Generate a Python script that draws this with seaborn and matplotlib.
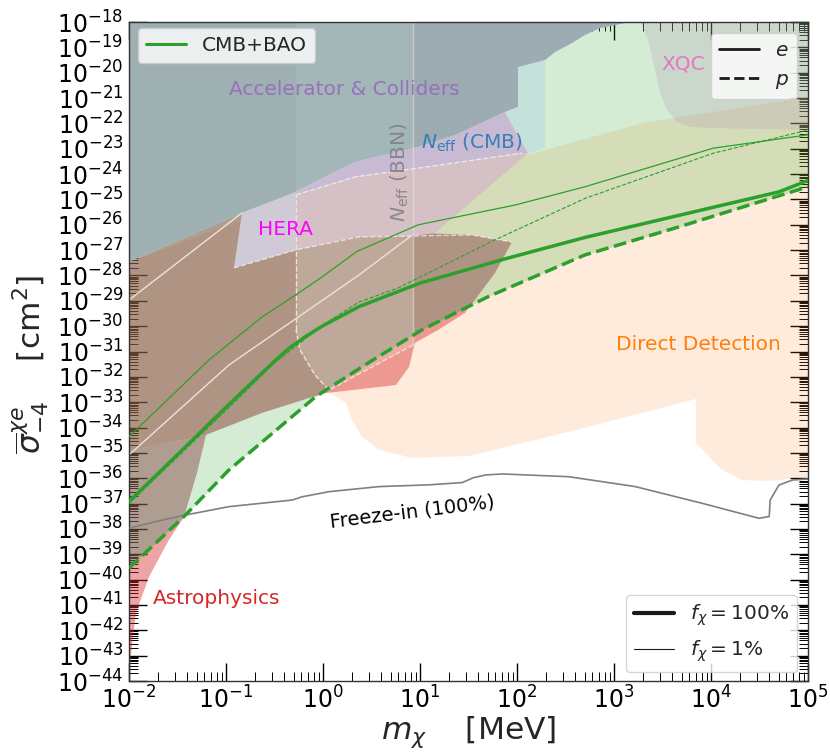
import numpy as np
import matplotlib
matplotlib.use("Agg")
import matplotlib.pyplot as plt
import seaborn as sns
from matplotlib.ticker import LogLocator, NullFormatter
from matplotlib.lines import Line2D

sns.set_theme(style="ticks")
plt.rcParams['font.family'] = ['DejaVu Sans']
plt.rcParams['mathtext.fontset'] = 'dejavusans'

# ---------------- data: log10(m / MeV), log10(sigma / cm^2) ----------------
# CMB+BAO limits
e100_logm = [-2.0, -1.5, -1.0, -0.5, -0.35, -0.18, 0.0, 0.37, 1.0, 1.9, 2.7, 3.7, 4.7, 5.0]
e100_logs = [-36.92, -35.07, -33.2, -31.38, -30.87, -30.41, -29.98, -29.23, -28.3, -27.32, -26.5, -25.6, -24.7, -24.25]
p100_logm = [-2.0, -1.433, -0.969, -0.523, -0.075, 0.433, 1.017, 1.70, 2.70, 3.68, 4.78, 5.0]
p100_logs = [-39.55, -37.51, -35.67, -34.23, -32.78, -31.53, -30.15, -28.84, -27.19, -26.07, -24.76, -24.5]
e1_logm = [-2.0, -1.175, -0.626, -0.282, -0.007, 0.35, 0.983, 1.98, 2.70, 4.02, 5.0]
e1_logs = [-34.36, -31.33, -29.63, -28.77, -28.05, -27.05, -26.0, -25.22, -24.5, -22.98, -22.45]
p1_logm = [-2.0, -1.0, -0.5, 0.0, 0.37, 0.77, 1.77, 2.7, 4.02, 5.0]
p1_logs = [-37.0, -33.32, -31.45, -29.95, -29.05, -28.5, -26.6, -24.96, -23.18, -22.26]

# freeze-in (100%)
fi_logm = [-2.0, -1.657, -1.416, -0.969, -0.317, -0.214, 0.062, 0.577, 1.093, 1.436, 1.55, 1.677, 1.85,
           2.536, 3.22, 3.91, 4.495, 4.60, 4.61, 4.70, 4.84, 5.0]
fi_logs = [-37.97, -37.65, -37.45, -37.12, -36.86, -36.73, -36.53, -36.33, -36.26, -36.17, -35.98, -35.87, -35.83,
           -35.94, -36.33, -36.99, -37.58, -37.51, -36.86, -36.27, -36.07, -36.03]

# direct detection region
dd_logm = [0.062, 0.237, 0.299, 0.402, 0.577, 0.918, 1.505, 2.536, 3.845, 3.845, 4.113, 4.320, 4.598, 5.0,
           5.0, 3.299, 2.103, 0.897, -0.278, -2.0, -2.0, -1.206, -0.629, -0.144]
dd_logs = [-32.60, -33.03, -33.70, -34.37, -34.88, -35.20, -35.12, -34.17, -32.87, -34.61, -35.67, -36.07, -36.11, -35.95,
           -20.96, -21.98, -23.25, -24.55, -25.02, -27.47, -34.88, -34.29, -33.42, -32.83]

# astrophysics region
astro_logm = [-2.0, -1.979, -1.928, -1.794, -1.588, -1.433, -1.299, -1.206, -0.629, -0.144, 0.031, 0.753, 0.887,
              0.948, 1.186, 1.464, 1.773, 1.948, 1.536, 1.021, 0.330, -0.278, -0.753, -0.835, -2.0]
astro_logs = [-44.04, -42.97, -41.31, -39.89, -38.43, -37.53, -35.79, -34.29, -33.42, -32.83, -32.64, -32.32, -31.61,
              -30.66, -30.15, -29.48, -27.90, -26.68, -26.40, -26.32, -26.48, -26.99, -26.60, -25.53, -27.47]

# overlapping cosmology band over the astrophysics region
ov_logm = [-2.0, -2.0, -0.835, -0.753, -0.278, 0.330, 1.021, 1.536, 1.948, 1.773, 1.53, 1.017, 0.433, -0.09,
           -0.629, -1.206, -1.299, -1.433, -2.0]
ov_logs = [-39.55, -27.47, -25.53, -26.60, -26.99, -26.48, -26.32, -26.40, -26.68, -27.90, -29.17, -30.15, -31.53, -32.80,
           -33.42, -34.29, -35.79, -37.51, -39.55]

# accelerator & colliders
acc_logm = [-2.0, 3.165, 2.856, 2.701, 2.567, 2.392, 2.289, 2.010, 2.010, 1.876, 1.361, 0.948, 0.330, -0.309, -0.835, -2.0]
acc_logs = [-18.0, -18.0, -18.24, -18.51, -18.83, -19.18, -19.50, -19.78, -21.35, -21.55, -22.46, -22.97, -23.52, -24.75, -25.53, -27.47]
acc_r_logm = [0.928, 3.165, 2.856, 2.701, 2.567, 2.392, 2.289, 2.010, 2.010, 1.876, 1.361, 0.948, 0.928]
acc_r_logs = [-18.0, -18.0, -18.24, -18.51, -18.83, -19.18, -19.50, -19.78, -21.35, -21.55, -22.46, -22.97, -23.0]

# Neff (CMB)
neffcmb_logm = [-0.309, 0.330, 0.948, 1.361, 1.876, 2.113, 2.052, 1.206, 0.330, -0.278]
neffcmb_logs = [-24.75, -23.52, -22.97, -22.46, -21.55, -23.17, -23.17, -23.64, -24.11, -24.82]
neffcmb_strip_logm = [2.010, 2.289, 2.289, 2.113, 1.876, 2.010]
neffcmb_strip_logs = [-19.78, -19.50, -22.97, -23.17, -21.55, -21.35]

# HERA
hera_logm = [-0.835, -0.309, -0.278, -0.278, -0.918]
hera_logs = [-25.53, -24.75, -24.82, -26.99, -27.70]
hera2_logm = [-0.278, 0.330, 1.206, 2.052, 2.113, 1.155, 0.928, 0.330, -0.278]
hera2_logs = [-24.82, -24.11, -23.64, -23.17, -23.17, -26.32, -26.44, -26.48, -26.99]

# XQC
xqc_logm = [3.268, 3.351, 3.423, 3.474, 3.546, 3.649, 3.784, 4.021, 5.0, 5.0]
xqc_logs = [-18.0, -18.71, -19.89, -20.80, -21.47, -21.94, -22.14, -22.18, -22.26, -18.0]

# Neff (BBN) band
bbn_logm = [-0.278, 0.928, 0.928, 0.062, -0.082, -0.237, -0.278]
bbn_logs = [-18.0, -18.0, -30.74, -32.52, -31.93, -30.94, -30.15]
bbn_top_logm = [-0.278, 0.928, 0.928, 0.330, -0.278]
bbn_top_logs = [-18.0, -18.0, -23.0, -23.52, -24.82]

# faint boundary curves
edge1_logm = [-2.0, -0.835]
edge1_logs = [-28.97, -25.53]
edge2_logm = [-2.0, -0.969, 0.371, 0.897]
edge2_logs = [-35.08, -31.53, -27.98, -26.47]
hera_edge_logm = [-0.918, -0.278, 0.371, 1.536, 1.948]
hera_edge_logs = [-27.70, -26.99, -26.48, -26.40, -26.68]
cmb_edge_logm = [-0.278, 0.330, 1.206, 2.052]
cmb_edge_logs = [-24.82, -24.11, -23.64, -23.17]

# ---------------- figure ----------------
fig = plt.figure(figsize=(8.3, 7.52), dpi=100)
ax = fig.add_axes([0.1554, 0.0944, 0.8181, 0.8763])
ax.set_xscale('log')
ax.set_yscale('log')

def P(a):
    return 10.0 ** np.asarray(a, dtype=float)

green = '#2ca02c'

ax.fill(P(dd_logm), P(dd_logs), color='#ff7f0e', alpha=0.15, lw=0, zorder=1.0)
ax.fill(P(astro_logm), P(astro_logs), color='#d62728', alpha=0.42, lw=0, zorder=1.1)
ax.fill_between(P(p100_logm), P(p100_logs), 1e-18, color=green, alpha=0.2, lw=0, zorder=1.2)
ax.fill(P(ov_logm), P(ov_logs), color='#1f77b4', alpha=0.13, lw=0, zorder=1.25)
ax.fill(P(xqc_logm), P(xqc_logs), color='#b9a0b5', alpha=0.27, lw=0, zorder=1.3)
ax.fill(P(bbn_logm), P(bbn_logs), color='#eef2f0', alpha=0.22, lw=0, zorder=1.35)
ax.fill(P(acc_logm), P(acc_logs), color='#9fb0b2', lw=0, zorder=1.5)
ax.fill(P(acc_r_logm), P(acc_r_logs), color='#8f7fc0', alpha=0.1, lw=0, zorder=1.55)
ax.fill(P(neffcmb_logm), P(neffcmb_logs), color='#c8bad2', lw=0, zorder=1.5)
ax.fill(P(neffcmb_strip_logm), P(neffcmb_strip_logs), color='#c5e2da', lw=0, zorder=1.5)
ax.fill(P(hera_logm), P(hera_logs), color='#cfcad6', lw=0, zorder=1.5)
ax.fill(P(hera2_logm), P(hera2_logs), color='#d5c0c6', lw=0, zorder=1.5)
ax.fill(P(bbn_top_logm), P(bbn_top_logs), color='#c0e4e4', alpha=0.12, lw=0, zorder=1.6)

pale = '#efe3d3'
ax.plot(P(edge1_logm), P(edge1_logs), color=pale, lw=1.0, zorder=1.7)
ax.plot(P(edge2_logm), P(edge2_logs), color=pale, lw=1.0, zorder=1.7)
ax.plot(P(hera_edge_logm), P(hera_edge_logs), color='white', alpha=0.6, lw=1.0, ls='--', zorder=1.7)
ax.plot(P(cmb_edge_logm), P(cmb_edge_logs), color='white', alpha=0.6, lw=1.0, ls='--', zorder=1.7)
ax.plot(P(bbn_logm[-5:]), P(bbn_logs[-5:]), color=pale, lw=1.0, ls='--', zorder=1.7)
ax.plot(P([bbn_logm[-1], bbn_logm[0]]), P([bbn_logs[-1], -24.82]), color=pale, lw=1.0, ls='--', zorder=1.7)
ax.plot(P([bbn_logm[1], bbn_logm[2]]), P([bbn_logs[1], bbn_logs[2]]), color=pale, lw=1.0, alpha=0.6, zorder=1.7)

# freeze-in
sns.lineplot(x=P(fi_logm), y=P(fi_logs), ax=ax, color='#808080', lw=1.2, sort=False, estimator=None, zorder=3)

# CMB+BAO curves
sns.lineplot(x=P(e1_logm), y=P(e1_logs), ax=ax, color=green, lw=0.9, sort=False, estimator=None, zorder=4)
sns.lineplot(x=P(p1_logm), y=P(p1_logs), ax=ax, color=green, lw=0.8, linestyle='--', sort=False, estimator=None, zorder=4)
sns.lineplot(x=P(e100_logm), y=P(e100_logs), ax=ax, color=green, lw=2.5, sort=False, estimator=None, zorder=4)
sns.lineplot(x=P(p100_logm), y=P(p100_logs), ax=ax, color=green, lw=2.5, linestyle='--', sort=False, estimator=None, zorder=4)

# region labels
fs = 14.5
ax.text(10**0.222, 10**-20.68, "Accelerator & Colliders", color='#9467bd', fontsize=fs, ha='center', va='center', zorder=3.5, alpha=0.85)
ax.text(10**1.536, 10**-22.77, r"$N_{\rm eff}$ (CMB)", color='#1f77b4', fontsize=fs, ha='center', va='center', zorder=3.5, alpha=0.85)
ax.text(10**0.794, 10**-23.92, r"$N_{\rm eff}$ (BBN)", color='#7f7f7f', fontsize=fs, ha='center', va='center', rotation=90, zorder=3.5, alpha=0.85)
ax.text(10**-0.392, 10**-26.2, "HERA", color='#ff00ff', fontsize=fs, ha='center', va='center', zorder=3.5)
ax.text(10**3.711, 10**-19.66, "XQC", color='#e377c2', fontsize=fs, ha='center', va='center', zorder=3.5)
ax.text(10**3.866, 10**-30.74, "Direct Detection", color='#ff7f0e', fontsize=fs, ha='center', va='center', zorder=3.5)
ax.text(10**-1.093, 10**-40.76, "Astrophysics", color='#d62728', fontsize=fs, ha='center', va='center', zorder=3.5)
ax.text(10**0.918, 10**-37.33, "Freeze-in (100%)", color='black', fontsize=14, ha='center', va='center', rotation=7, zorder=3.5)

# axes setup
ax.set_xlim(1e-2, 1e5)
ax.set_ylim(1e-44, 1e-18)
ax.xaxis.set_major_locator(LogLocator(base=10, numticks=20))
ax.xaxis.set_minor_locator(LogLocator(base=10, subs=np.arange(2, 10) * 1.0, numticks=200))
ax.yaxis.set_major_locator(LogLocator(base=10, numticks=40))
ax.yaxis.set_minor_locator(LogLocator(base=10, subs=np.arange(2, 10) * 1.0, numticks=500))
ax.xaxis.set_minor_formatter(NullFormatter())
ax.yaxis.set_minor_formatter(NullFormatter())
ax.tick_params(which='both', direction='in', top=True, right=True, colors='black')
ax.tick_params(which='major', length=13, width=1.0, labelsize=17, pad=4)
ax.tick_params(which='minor', length=6.5, width=0.7)
for s in ax.spines.values():
    s.set_linewidth(1.0)
    s.set_color('#333333')
ax.set_xlabel(r"$m_\chi$    [MeV]", fontsize=22.5)
ax.set_ylabel(r"$\overline{\sigma}^{\chi e}_{-4}$    [cm$^2$]", fontsize=22.5)
ax.xaxis.set_label_coords(0.5, -0.052)
ax.yaxis.set_label_coords(-0.115, 0.48)

# legends
leg1 = ax.legend([Line2D([], [], color=green, lw=2.2)], ['CMB+BAO'], loc='upper left',
                 bbox_to_anchor=(0.013, 0.991), borderaxespad=0, fontsize=fs, framealpha=0.8)
leg1.set_zorder(10)
ax.add_artist(leg1)
leg2 = ax.legend([Line2D([], [], color='k', lw=2), Line2D([], [], color='k', lw=2, ls='--')],
                 ['$e$', '$p$'], loc='upper right', bbox_to_anchor=(0.984, 0.983), borderaxespad=0,
                 fontsize=fs, framealpha=0.8)
leg2.set_zorder(10)
ax.add_artist(leg2)
leg3 = ax.legend([Line2D([], [], color='k', lw=3), Line2D([], [], color='k', lw=0.8)],
                 [r'$f_\chi = 100\%$', r'$f_\chi = 1\%$'], loc='lower right',
                 bbox_to_anchor=(0.984, 0.0137), borderaxespad=0, fontsize=fs, framealpha=0.8)
leg3.set_zorder(10)

fig.savefig('out.png', dpi=100)
